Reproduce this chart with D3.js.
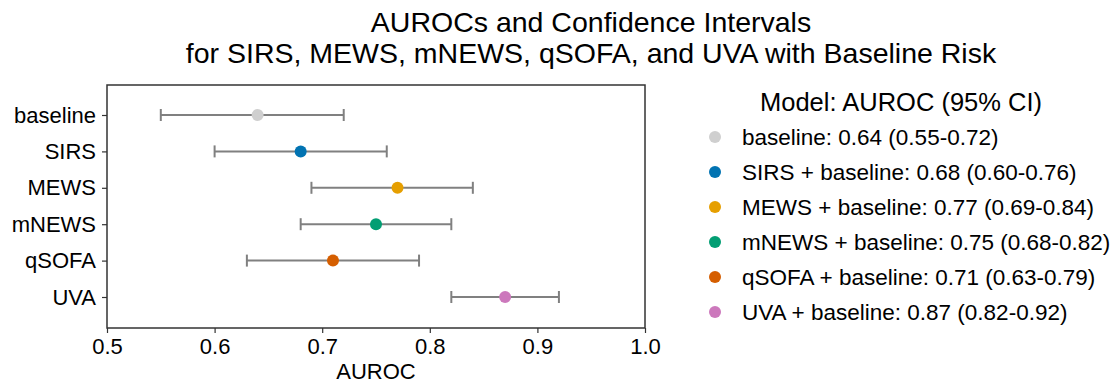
<!DOCTYPE html>
<html>
<head>
<meta charset="utf-8">
<script src="https://cdn.jsdelivr.net/npm/d3@7"></script>
<style>
  body { margin: 0; background: #fff; }
  svg { font-family: "Liberation Sans", Arial, sans-serif; }
</style>
</head>
<body>
<svg id="chart" width="1114" height="384"></svg>
<script>
// Model names, point estimates and 95% confidence bounds
const models = ["baseline", "SIRS", "MEWS", "mNEWS", "qSOFA", "UVA"];
const auroc = [0.64, 0.68, 0.77, 0.75, 0.71, 0.87];
const ciLow = [0.55, 0.60, 0.69, 0.68, 0.63, 0.82];
const ciHigh = [0.72, 0.76, 0.84, 0.82, 0.79, 0.92];
const legendNames = ["baseline", "SIRS + baseline", "MEWS + baseline", "mNEWS + baseline", "qSOFA + baseline", "UVA + baseline"];
const colors = ["#cfcfcf", "#0173b2", "#e69f00", "#029e73", "#d55e00", "#cc78bc"];
const xTicks = [0.5, 0.6, 0.7, 0.8, 0.9, 1.0];

const svg = d3.select("#chart");
const plot = { left: 107, right: 645, top: 85, bottom: 328 };

const x = d3.scaleLinear().domain([0.5, 1.0]).range([plot.left, plot.right]);
const y = d3.scalePoint().domain(models).range([plot.top + 30, plot.bottom - 31]);

// Title
const title = svg.append("text").attr("text-anchor", "middle")
  .attr("font-size", 28.5).attr("fill", "#000");
title.append("tspan").attr("x", 591).attr("y", 32).text("AUROCs and Confidence Intervals");
title.append("tspan").attr("x", 591).attr("y", 63).text("for SIRS, MEWS, mNEWS, qSOFA, and UVA with Baseline Risk");

// Axes
const xAxis = svg.append("g").attr("transform", `translate(0,${plot.bottom})`)
  .call(d3.axisBottom(x).tickValues(xTicks).tickFormat(d3.format(".1f")).tickSizeOuter(0).tickSize(5).tickPadding(5));
const yAxis = svg.append("g").attr("transform", `translate(${plot.left},0)`)
  .call(d3.axisLeft(y).tickSizeOuter(0).tickSize(5).tickPadding(6));
[xAxis, yAxis].forEach(g => {
  g.select(".domain").remove();
  g.selectAll(".tick line").attr("stroke", "#333").attr("stroke-width", 1.2);
  g.selectAll(".tick text").attr("font-size", 22).attr("fill", "#000")
    .attr("font-family", "Liberation Sans, Arial, sans-serif");
});

// Frame around the plotting area
svg.append("rect")
  .attr("x", plot.left).attr("y", plot.top)
  .attr("width", plot.right - plot.left).attr("height", plot.bottom - plot.top)
  .attr("fill", "none").attr("stroke", "#333").attr("stroke-width", 1.5);

svg.append("text").attr("x", (plot.left + plot.right) / 2).attr("y", 379)
  .attr("text-anchor", "middle").attr("font-size", 22).text("AUROC");

// Confidence interval bars with caps
const rows = models.map((m, i) => ({ m, v: auroc[i], lo: ciLow[i], hi: ciHigh[i], c: colors[i] }));
const capH = 6;
const bars = svg.append("g").attr("stroke", "#808080").attr("stroke-width", 2).attr("fill", "none");
rows.forEach(r => {
  const yy = y(r.m);
  bars.append("line").attr("x1", x(r.lo)).attr("x2", x(r.hi)).attr("y1", yy).attr("y2", yy);
  bars.append("line").attr("x1", x(r.lo)).attr("x2", x(r.lo)).attr("y1", yy - capH).attr("y2", yy + capH);
  bars.append("line").attr("x1", x(r.hi)).attr("x2", x(r.hi)).attr("y1", yy - capH).attr("y2", yy + capH);
});

// Point estimates
svg.append("g").selectAll("circle").data(rows).join("circle")
  .attr("cx", d => x(d.v)).attr("cy", d => y(d.m)).attr("r", 6).attr("fill", d => d.c);

// Legend
const legend = svg.append("g");
legend.append("text").attr("x", 901).attr("y", 111).attr("text-anchor", "middle")
  .attr("font-size", 25.5).text("Model: AUROC (95% CI)");
const fmt = d3.format(".2f");
rows.forEach((r, i) => {
  const ly = 137 + i * 35;
  legend.append("circle").attr("cx", 715).attr("cy", ly).attr("r", 6).attr("fill", r.c);
  legend.append("text").attr("x", 742).attr("y", ly + 8).attr("font-size", 22.5)
    .text(`${legendNames[i]}: ${fmt(r.v)} (${fmt(r.lo)}-${fmt(r.hi)})`);
});
</script>
</body>
</html>
